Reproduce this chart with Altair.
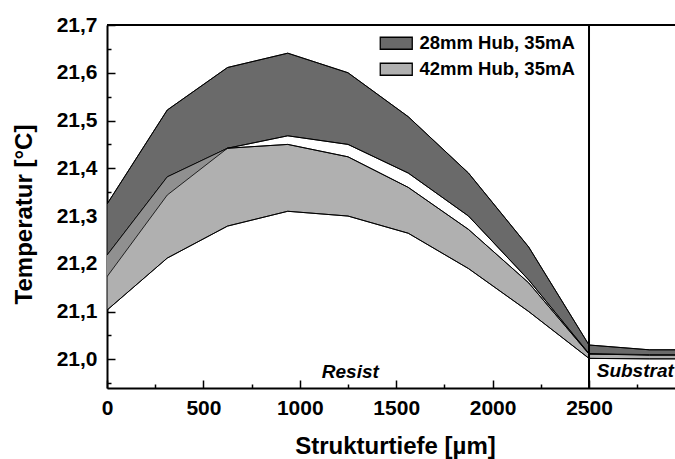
import altair as alt
import pandas as pd

# ---- data ----
depth = [0, 312.5, 625, 937.5, 1250, 1562.5, 1875, 2187.5, 2500, 2812.5, 3125]
hub28_upper = [21.325, 21.522, 21.611, 21.641, 21.600, 21.508, 21.390, 21.235, 21.030, 21.020, 21.020]
hub28_lower = [21.173, 21.344, 21.442, 21.468, 21.450, 21.390, 21.300, 21.166, 21.012, 21.008, 21.008]
hub42_upper = [21.218, 21.382, 21.442, 21.450, 21.424, 21.360, 21.272, 21.160, 21.011, 21.010, 21.010]
hub42_lower = [21.103, 21.212, 21.279, 21.310, 21.300, 21.264, 21.190, 21.100, 21.002, 21.001, 21.001]
series_names = ["28mm Hub, 35mA", "42mm Hub, 35mA"]
series_colors = ["#6a6a6a", "#b0b0b0"]
overlap_color = "#909090"

x_major = [0, 500, 1000, 1500, 2000, 2500]
x_minor = [250, 750, 1250, 1750, 2250, 2750]
y_major = [21.0, 21.1, 21.2, 21.3, 21.4, 21.5, 21.6, 21.7]
y_minor = [20.95, 21.05, 21.15, 21.25, 21.35, 21.45, 21.55, 21.65]
x_domain = [0, 2946]
y_domain = [20.94, 21.7]

boundary = [2500]
top_edge = [21.7]
region_labels = ["Resist", "Substrat"]
region_x = [1262, 2540]
region_y = [20.961, 20.962]

FONT = "Liberation Sans"

# bands (long form)
rows = []
for name, lo, hi in [(series_names[0], hub28_lower, hub28_upper),
                     (series_names[1], hub42_lower, hub42_upper)]:
    for d, l, h in zip(depth, lo, hi):
        rows.append({"depth": d, "lower": l, "upper": h, "series": name})
df = pd.DataFrame(rows)

# region where the two bands overlap (derived from the arrays above)
ov_rows = []
for d, l28, h28, l42, h42 in zip(depth, hub28_lower, hub28_upper, hub42_lower, hub42_upper):
    lo = max(l28, l42)
    hi = max(lo, min(h28, h42))
    ov_rows.append({"depth": d, "lower": lo, "upper": hi})
df_ov = pd.DataFrame(ov_rows)

# outlines
line_rows = []
for key, vals in [("a", hub28_upper), ("b", hub28_lower), ("c", hub42_upper), ("d", hub42_lower)]:
    for d, v in zip(depth, vals):
        line_rows.append({"depth": d, "temp": v, "line": key})
df_lines = pd.DataFrame(line_rows)

df_bound = pd.DataFrame({"depth": boundary})
df_top = pd.DataFrame({"temp": top_edge})
df_text = pd.DataFrame({"depth": region_x, "temp": region_y, "label": region_labels})

xs = alt.Scale(domain=x_domain, nice=False, zero=False)
ys = alt.Scale(domain=y_domain, nice=False, zero=False)

x_main = alt.Axis(values=x_major, orient="bottom", offset=-8, tickSize=8, tickWidth=1.5,
                  tickColor="black", domain=False, grid=False, labelFlush=False,
                  labelOverlap=False, format="d", labelFont=FONT, labelFontSize=21,
                  labelFontWeight="bold", labelColor="black", labelPadding=9,
                  title="Strukturtiefe [µm]", titleFont=FONT, titleFontSize=24,
                  titleFontWeight="bold", titleColor="black", titleX=288, titleY=73,
                  titleAlign="center", titleBaseline="alphabetic")
y_main = alt.Axis(values=y_major, orient="left", offset=-8, tickSize=8, tickWidth=1.5,
                  tickColor="black", domain=False, grid=False, labelFlush=False,
                  labelOverlap=False,
                  labelExpr="replace(format(datum.value, '.1f'), '.', ',')",
                  labelFont=FONT, labelFontSize=21, labelFontWeight="bold",
                  labelColor="black", labelPadding=10,
                  title="Temperatur [°C]", titleFont=FONT, titleFontSize=24,
                  titleFontWeight="bold", titleColor="black", titleX=-84, titleY=189,
                  titleAngle=270, titleAlign="center", titleBaseline="alphabetic")
x_minor_axis = alt.Axis(values=x_minor, orient="bottom", offset=-4, tickSize=4, tickWidth=1.5,
                        tickColor="black", domain=False, labels=False, grid=False, title=None)
y_minor_axis = alt.Axis(values=y_minor, orient="left", offset=-4, tickSize=4, tickWidth=1.5,
                        tickColor="black", domain=False, labels=False, grid=False, title=None)
x_dom_axis = alt.Axis(orient="bottom", domain=True, domainColor="black", domainWidth=2,
                      ticks=False, labels=False, grid=False, title=None)
y_dom_axis = alt.Axis(orient="left", domain=True, domainColor="black", domainWidth=2,
                      ticks=False, labels=False, grid=False, title=None)

rect_symbol = "M-2.667,-1H2.667V1H-2.667Z"
leg = alt.Legend(title=None, orient="none", legendX=280, legendY=9, symbolType=rect_symbol,
                 symbolSize=144, symbolStrokeColor="black", symbolStrokeWidth=1.3,
                 labelFont=FONT, labelFontSize=18.5, labelFontWeight="bold", labelColor="black",
                 labelOffset=14, rowPadding=7, padding=0)

bands = alt.Chart(df).mark_area(clip=True, stroke="black", strokeWidth=1.0, opacity=1).encode(
    x=alt.X("depth:Q", scale=xs, axis=x_main),
    y=alt.Y("lower:Q", scale=ys, axis=y_main),
    y2="upper:Q",
    color=alt.Color("series:N", scale=alt.Scale(domain=series_names, range=series_colors),
                    legend=leg),
)

overlap = alt.Chart(df_ov).mark_area(clip=True, color=overlap_color, opacity=1).encode(
    x=alt.X("depth:Q", scale=xs, axis=None),
    y=alt.Y("lower:Q", scale=ys, axis=None),
    y2="upper:Q",
)

outlines = alt.Chart(df_lines).mark_line(clip=True, color="black", strokeWidth=0.8).encode(
    x=alt.X("depth:Q", scale=xs, axis=None),
    y=alt.Y("temp:Q", scale=ys, axis=None),
    detail="line:N",
)

vline = alt.Chart(df_bound).mark_rule(color="black", strokeWidth=2).encode(
    x=alt.X("depth:Q", scale=xs, axis=None)
)
top_line = alt.Chart(df_top).mark_rule(color="black", strokeWidth=2).encode(
    y=alt.Y("temp:Q", scale=ys, axis=None)
)

resist = alt.Chart(df_text).transform_filter(alt.datum.label == "Resist").mark_text(
    font=FONT, fontSize=19, fontStyle="italic", fontWeight="bold", color="black",
    align="center", baseline="alphabetic"
).encode(
    x=alt.X("depth:Q", scale=xs, axis=x_minor_axis),
    y=alt.Y("temp:Q", scale=ys, axis=y_minor_axis),
    text="label:N",
)
substrat = alt.Chart(df_text).transform_filter(alt.datum.label == "Substrat").mark_text(
    font=FONT, fontSize=19, fontStyle="italic", fontWeight="bold", color="black",
    align="left", baseline="alphabetic"
).encode(
    x=alt.X("depth:Q", scale=xs, axis=x_dom_axis),
    y=alt.Y("temp:Q", scale=ys, axis=y_dom_axis),
    text="label:N",
)

chart = alt.layer(bands, overlap, outlines, vline, top_line, resist, substrat).resolve_axis(
    x="independent", y="independent"
).properties(
    width=568, height=363,
    autosize=alt.AutoSizeParams(type="none"),
    padding={"left": 107, "top": 25, "right": 0, "bottom": 71},
    background="white",
).configure_view(strokeWidth=0)

chart.save("out.html", embed_options={"renderer": "svg", "actions": False})
